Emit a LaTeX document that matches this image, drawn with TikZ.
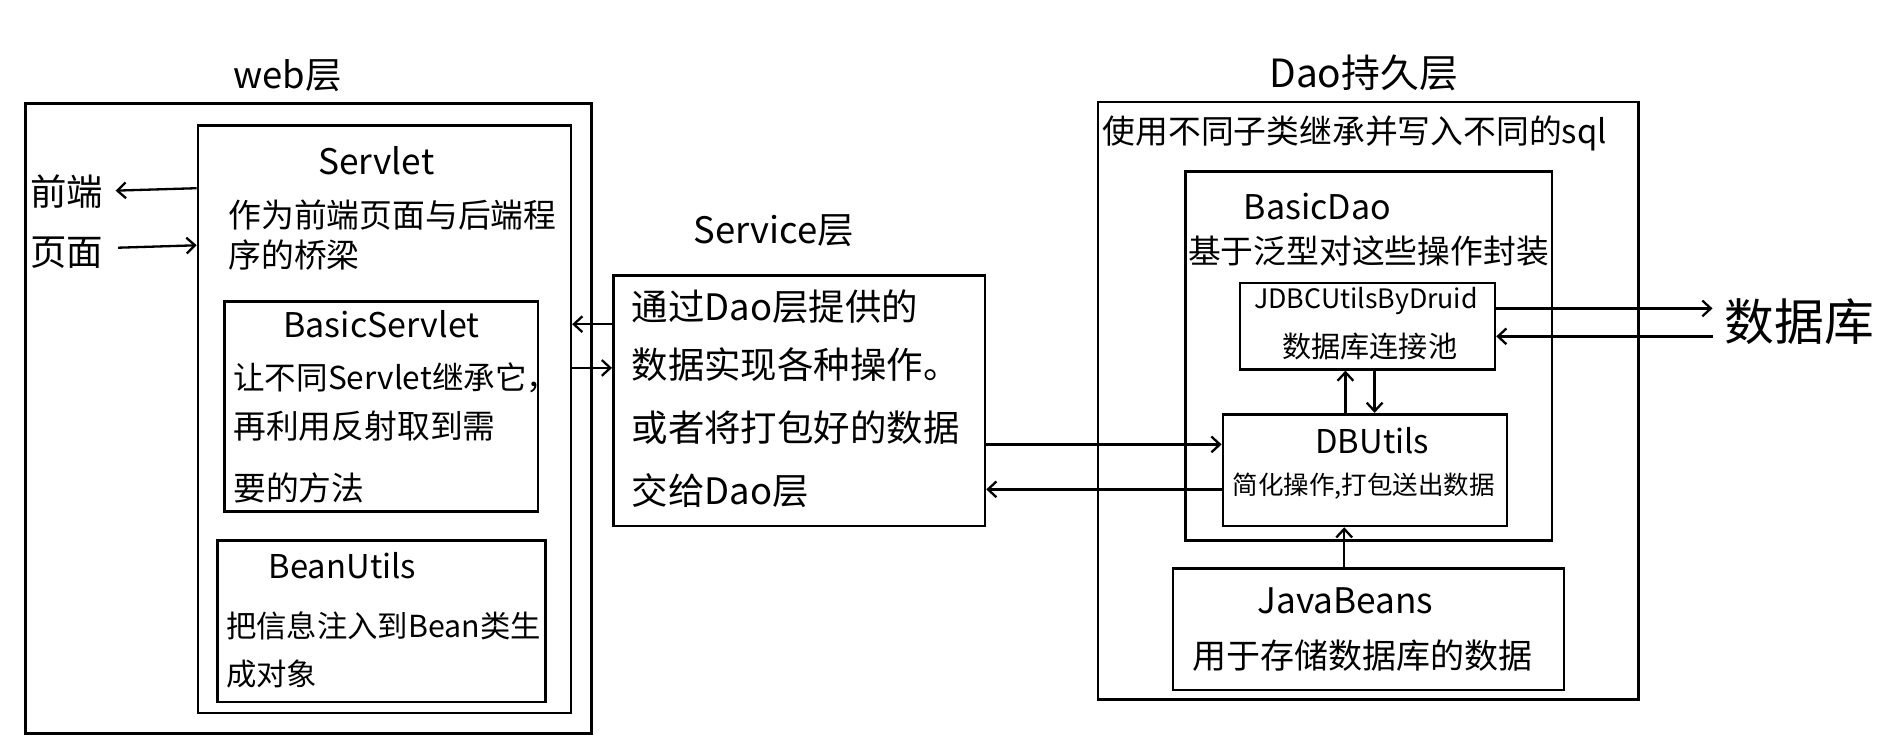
\documentclass[tikz,border=0pt]{standalone}
\usepackage{fontspec}
\setmainfont{Noto Sans CJK SC}
\usetikzlibrary{arrows.meta}
\newcommand\fsz[1]{\fontsize{#1}{#1}\selectfont}
\begin{document}
\begin{tikzpicture}[x=1pt,y=-1pt,
  box/.style={draw,line width=2.2pt,rectangle,inner sep=0pt,anchor=north west},
  txt/.style={inner sep=0pt},
  ltxt/.style={inner sep=0pt,anchor=west},
  arr/.style={line width=1.9pt,-{Straight Barb[length=7pt,width=13pt,line width=1.9pt]}}]
\useasboundingbox[fill=white] (0,0) rectangle (1568,612);
% ---------- web layer ----------
\node[txt,font=\fsz{30}] (webT) at (237,62) {web层};
\node[box,minimum width=466pt,minimum height=519pt] (web) at (20,84) {};
\node[box,minimum width=307pt,minimum height=484pt] (servlet) at (162,102) {};
\node[txt,font=\fsz{29}] (servletT) at (310,132) {Servlet};
\node[ltxt,font=\fsz{27}] (servletD1) at (188,177) {作为前端页面与后端程};
\node[ltxt,font=\fsz{27}] (servletD2) at (188,210) {序的桥梁};
\node[box,minimum width=258pt,minimum height=173pt] (bservlet) at (184,247) {};
\node[txt,font=\fsz{28}] (bservletT) at (314,267) {BasicServlet};
\node[ltxt,font=\fsz{26}] (bsD1) at (192,311) {让不同Servlet继承它，};
\node[ltxt,font=\fsz{27}] (bsD2) at (192,351) {再利用反射取到需};
\node[ltxt,font=\fsz{27}] (bsD3) at (192,402) {要的方法};
\node[box,minimum width=270pt,minimum height=133pt] (bean) at (178,444) {};
\node[txt,font=\fsz{27}] (beanT) at (282,466) {BeanUtils};
\node[ltxt,font=\fsz{25}] (beanD1) at (186,515) {把信息注入到Bean类生};
\node[ltxt,font=\fsz{25}] (beanD2) at (186,555) {成对象};
\node[txt,font=\fsz{30}] (fe1) at (55,158) {前端};
\node[txt,font=\fsz{30}] (fe2) at (55,208) {页面};
% ---------- service layer ----------
\node[txt,font=\fsz{30}] (svcT) at (637,190) {Service层};
\node[box,minimum width=306pt,minimum height=206pt] (svc) at (504,226) {};
\node[ltxt,font=\fsz{30}] (svcD1) at (520,253) {通过Dao层提供的};
\node[ltxt,font=\fsz{30}] (svcD2) at (520,300) {数据实现各种操作。};
\node[ltxt,font=\fsz{30}] (svcD3) at (520,352) {或者将打包好的数据};
\node[ltxt,font=\fsz{30}] (svcD4) at (520,404) {交给Dao层};
% ---------- dao layer ----------
\node[txt,font=\fsz{32}] (daoT) at (1123,60) {Dao持久层};
\node[box,minimum width=445pt,minimum height=492pt] (dao) at (903,83) {};
\node[ltxt,font=\fsz{27}] (daoD) at (908,110) {使用不同子类继承并写入不同的sql};
\node[box,minimum width=302pt,minimum height=304pt] (bdao) at (975,140) {};
\node[txt,font=\fsz{28}] (bdaoT) at (1085,170) {BasicDao};
\node[txt,font=\fsz{27}] (bdaoD) at (1127,207) {基于泛型对这些操作封装};
\node[box,minimum width=210pt,minimum height=71pt] (jdbc) at (1020,232) {};
\node[txt,font=\fsz{22}] (jdbcT) at (1125,248) {JDBCUtilsByDruid};
\node[txt,font=\fsz{24}] (jdbcD) at (1128,285) {数据库连接池};
\node[box,minimum width=234pt,minimum height=92pt] (dbu) at (1006,340) {};
\node[txt,font=\fsz{27}] (dbuT) at (1130,363) {DBUtils};
\node[txt,font=\fsz{21}] (dbuD) at (1123,400) {简化操作,打包送出数据};
\node[box,minimum width=322pt,minimum height=100pt] (jb) at (965,467) {};
\node[txt,font=\fsz{29}] (jbT) at (1108,495) {JavaBeans};
\node[txt,font=\fsz{28}] (jbD) at (1122,540) {用于存储数据库的数据};
\node[txt,font=\fsz{41}] (db) at (1482,265) {数据库};
% ---------- connectors ----------
\draw[arr] (servlet.west |- 0,155) -- ([xshift=10pt]fe1.east |- 0,157);
\draw[arr] ([xshift=12pt]fe2.east |- 0,204) -- (servlet.west |- 0,202);
\draw[arr] (svc.west |- 0,267) -- (servlet.east |- 0,267);
\draw[arr] (servlet.east |- 0,303) -- (svc.west |- 0,303);
\draw[arr] (svc.east |- 0,366) -- (dbu.west |- 0,366);
\draw[arr] (dbu.west |- 0,403) -- (svc.east |- 0,403);
\draw[arr] (jdbc.east |- 0,254) -- ([xshift=-10pt]db.west |- 0,254);
\draw[arr] ([xshift=-10pt]db.west |- 0,277) -- (jdbc.east |- 0,277);
\draw[arr] (dbu.north -| 1108,0) -- (jdbc.south -| 1108,0);
\draw[arr] (jdbc.south -| 1132,0) -- (dbu.north -| 1132,0);
\draw[arr] (jb.north -| 1107,0) -- (dbu.south -| 1107,0);
\end{tikzpicture}
\end{document}
